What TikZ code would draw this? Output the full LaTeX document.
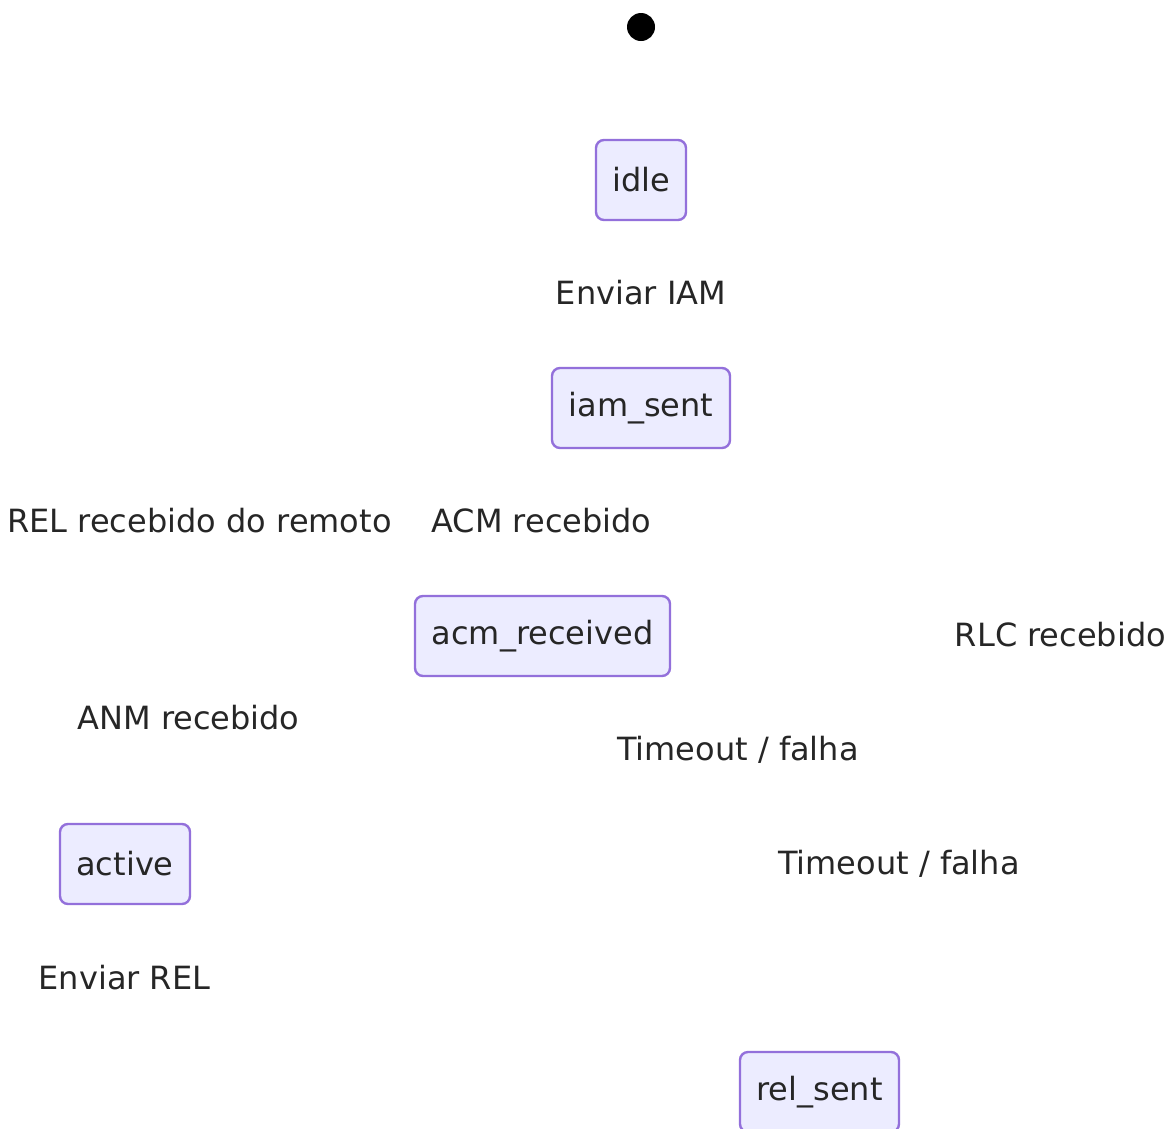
\documentclass[tikz,border=0pt]{standalone}
\usepackage{fontspec}
\setmainfont{DejaVu Sans}
\definecolor{stfill}{HTML}{ECECFF}
\definecolor{stline}{HTML}{9370DB}
\definecolor{txt}{HTML}{262626}
\begin{document}
\begin{tikzpicture}[x=1pt,y=-1pt,
  every node/.style={font=\fontsize{32}{36}\selectfont, text=txt, inner sep=0pt},
  state/.style={draw=stline, fill=stfill, line width=2.4pt, rounded corners=8pt, minimum height=80pt},
  lbl/.style={}]
\useasboundingbox (0,0) rectangle (1172,1128);
\clip (0,0) rectangle (1172,1128);
\fill[black] (641,27) circle (14) coordinate (start);
\node[state, minimum width=90pt] (idle) at (641,180) {idle};
\node[state, minimum width=178pt] (iam) at (641,408) {iam\_sent};
\node[state, minimum width=255pt] (acm) at (542.5,636) {acm\_received};
\node[state, minimum width=130pt] (active) at (125,864) {active};
\node[state, minimum width=159pt] (rel) at (819.5,1092) {rel\_sent};
\node[lbl] (l1) at (641,293) {Enviar IAM};
\node[lbl] (l2) at (199.5,521) {REL recebido do remoto};
\node[lbl] (l3) at (541.5,521) {ACM recebido};
\node[lbl] (l4) at (1060.5,635) {RLC recebido};
\node[lbl] (l5) at (188.5,718) {ANM recebido};
\node[lbl] (l6) at (738,750) {Timeout / falha};
\node[lbl] (l7) at (899,864) {Timeout / falha};
\node[lbl] (l8) at (124.5,978) {Enviar REL};
\end{tikzpicture}
\end{document}
